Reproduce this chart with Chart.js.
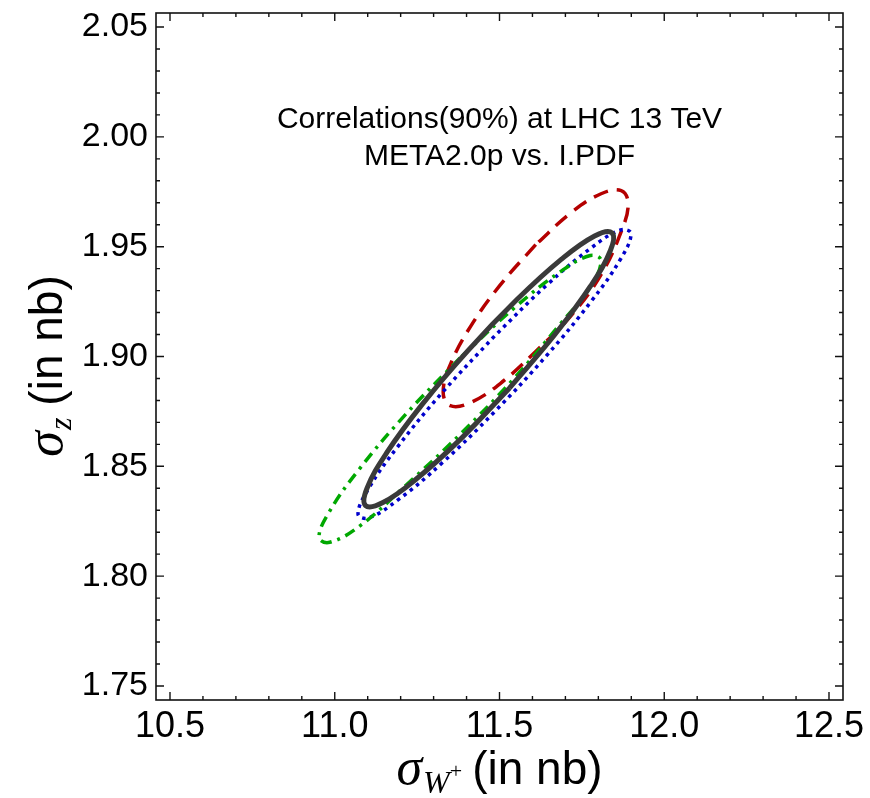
<!DOCTYPE html>
<html>
<head>
<meta charset="utf-8">
<script src="https://cdn.jsdelivr.net/npm/chart.js@4.4.0/dist/chart.umd.min.js"></script>
<style>
  html, body { margin: 0; padding: 0; background: #fff; }
</style>
</head>
<body>
<canvas id="corrChart" width="870" height="798"></canvas>
<script>
// --- AXES ---
const xTicks = [10.5, 11.0, 11.5, 12.0, 12.5];
const yTicks = [1.75, 1.80, 1.85, 1.90, 1.95, 2.00, 2.05];
const xRange = [10.4575, 12.5425];
const yRange = [1.7436, 2.0564];

// --- 90% CONTOURS (sigma_W+, sigma_Z), points going round each ellipse ---
const solidBlack = [
  [11.5307, 1.8857], [11.3826, 1.8625], [11.2475, 1.8442], [11.1461, 1.8335],
  [11.0935, 1.8321], [11.0979, 1.8400], [11.1583, 1.8563], [11.2660, 1.8783],
  [11.4043, 1.9027], [11.5522, 1.9258], [11.6873, 1.9442], [11.7886, 1.9549],
  [11.8413, 1.9563], [11.8369, 1.9484], [11.7765, 1.9321], [11.6687, 1.9101],
  [11.5307, 1.8857]
];
const dashedRed = [
  [11.6099, 1.9509], [11.5024, 1.9326], [11.4114, 1.9135], [11.3504, 1.8962],
  [11.3291, 1.8837], [11.3504, 1.8776], [11.4114, 1.8790], [11.5024, 1.8877],
  [11.6099, 1.9023], [11.7173, 1.9186], [11.8083, 1.9373], [11.8693, 1.9569],
  [11.8906, 1.9695], [11.8693, 1.9755], [11.8083, 1.9741], [11.7173, 1.9655],
  [11.6099, 1.9509]
];
const dottedBlue = [
  [11.4848, 1.9093], [11.3264, 1.8836], [11.1920, 1.8591], [11.1021, 1.8397],
  [11.0706, 1.8282], [11.1021, 1.8265], [11.1920, 1.8347], [11.3264, 1.8516],
  [11.4848, 1.8748], [11.6433, 1.9005], [11.7777, 1.9250], [11.8675, 1.9444],
  [11.8991, 1.9559], [11.8675, 1.9576], [11.7777, 1.9494], [11.6433, 1.9325],
  [11.4848, 1.9093]
];
const dashDotGreen = [
  [11.3801, 1.8993], [11.2162, 1.8738], [11.0775, 1.8493], [10.9847, 1.8296],
  [10.9522, 1.8177], [10.9847, 1.8154], [11.0775, 1.8230], [11.2162, 1.8414],
  [11.3801, 1.8645], [11.5440, 1.8900], [11.6827, 1.9145], [11.7756, 1.9317],
  [11.8081, 1.9437], [11.7756, 1.9460], [11.6827, 1.9384], [11.5440, 1.9220],
  [11.3801, 1.8993]
];

const titleLines = ["Correlations(90%) at LHC 13 TeV", "META2.0p vs. I.PDF"];

function contour(points, color, width, dash, order) {
  return {
    data: points.map(p => ({ x: p[0], y: p[1] })),
    showLine: true,
    borderColor: color,
    borderWidth: width,
    borderDash: dash,
    borderCapStyle: "butt",
    pointRadius: 0,
    tension: 0.4,
    fill: false,
    order: order
  };
}

// --- FRAME: box with inward ticks on all four sides ---
const frameTicks = {
  id: "frameTicks",
  afterDatasetsDraw(chart) {
    const { ctx, chartArea: a, scales: { x, y } } = chart;
    ctx.save();
    ctx.strokeStyle = "#111";
    ctx.lineWidth = 1.6;
    ctx.strokeRect(a.left, a.top, a.right - a.left, a.bottom - a.top);
    ctx.lineWidth = 1.4;
    ctx.beginPath();
    for (let i = 0; i <= 20; i++) {
      const px = x.getPixelForValue(10.5 + i * 0.1);
      const len = i % 5 === 0 ? 8 : 4;
      ctx.moveTo(px, a.bottom); ctx.lineTo(px, a.bottom - len);
      ctx.moveTo(px, a.top); ctx.lineTo(px, a.top + len);
    }
    for (let i = 0; i <= 30; i++) {
      const py = y.getPixelForValue(1.75 + i * 0.01);
      const len = i % 5 === 0 ? 8 : 4;
      ctx.moveTo(a.left, py); ctx.lineTo(a.left + len, py);
      ctx.moveTo(a.right, py); ctx.lineTo(a.right - len, py);
    }
    ctx.stroke();
    ctx.restore();
  }
};

// text made of runs with different fonts, centred on cx
function drawRuns(ctx, runs, cx, base) {
  let total = 0;
  runs.forEach(r => {
    ctx.font = r.font;
    r.w = ctx.measureText(r.text).width;
    total += r.w + (r.gap || 0);
  });
  let pos = cx - total / 2;
  runs.forEach(r => {
    ctx.font = r.font;
    ctx.fillText(r.text, pos, base + (r.dy || 0));
    pos += r.w + (r.gap || 0);
  });
}

const axisTitles = {
  id: "axisTitles",
  afterDraw(chart) {
    const { ctx, chartArea: a } = chart;
    const cx = (a.left + a.right) / 2;
    ctx.save();
    ctx.fillStyle = "#000";
    ctx.textBaseline = "alphabetic";

    // label inside the plot
    ctx.font = "30px 'Liberation Sans', Arial, sans-serif";
    ctx.textAlign = "center";
    ctx.fillText(titleLines[0], cx, 128);
    ctx.fillText(titleLines[1], cx, 165);
    ctx.textAlign = "left";

    // x axis title
    drawRuns(ctx, [
      { text: "\u03C3", font: "italic 52px 'Liberation Serif', serif", gap: 1 },
      { text: "W", font: "italic 32px 'Liberation Serif', serif", dy: 9 },
      { text: "+", font: "22px 'Liberation Serif', serif", dy: -6, gap: 10 },
      { text: "(in nb)", font: "46px 'Liberation Sans', Arial, sans-serif" }
    ], cx, 784);

    // y axis title
    ctx.translate(62, 366);
    ctx.rotate(-Math.PI / 2);
    drawRuns(ctx, [
      { text: "\u03C3", font: "italic 52px 'Liberation Serif', serif", gap: 1 },
      { text: "z", font: "italic 32px 'Liberation Serif', serif", dy: 9, gap: 12 },
      { text: "(in nb)", font: "46px 'Liberation Sans', Arial, sans-serif" }
    ], 0, 0);
    ctx.restore();
  }
};

const ctx = document.getElementById("corrChart").getContext("2d");
new Chart(ctx, {
  type: "scatter",
  data: {
    datasets: [
      contour(dashedRed, "#b40000", 3.5, [15, 9], 4),
      contour(dashDotGreen, "#00a800", 3.5, [11, 6, 3, 6], 2),
      contour(dottedBlue, "#0000cc", 3.5, [3.5, 4.5], 3),
      contour(solidBlack, "#3a3a3a", 5, [], 1)
    ]
  },
  options: {
    responsive: false,
    animation: false,
    layout: { padding: { top: 13, right: 27, left: 0, bottom: 0 } },
    plugins: { legend: { display: false }, tooltip: { enabled: false } },
    scales: {
      x: {
        type: "linear",
        min: xRange[0],
        max: xRange[1],
        grid: { display: false, drawTicks: false },
        border: { display: false },
        afterBuildTicks: s => { s.ticks = xTicks.map(v => ({ value: v })); },
        afterFit: s => { s.height = 98; s.paddingLeft = 0; s.paddingRight = 0; },
        ticks: {
          color: "#000",
          padding: 5,
          maxRotation: 0,
          autoSkip: false,
          font: { family: "'Liberation Sans', Arial, sans-serif", size: 36 },
          callback: v => v.toFixed(1)
        }
      },
      y: {
        type: "linear",
        min: yRange[0],
        max: yRange[1],
        grid: { display: false, drawTicks: false },
        border: { display: false },
        afterBuildTicks: s => { s.ticks = yTicks.map(v => ({ value: v })); },
        afterFit: s => { s.width = 156; s.paddingTop = 0; s.paddingBottom = 0; },
        ticks: {
          color: "#000",
          padding: 8,
          autoSkip: false,
          font: { family: "'Liberation Sans', Arial, sans-serif", size: 34 },
          callback: v => v.toFixed(2)
        }
      }
    }
  },
  plugins: [frameTicks, axisTitles]
});
</script>
</body>
</html>
